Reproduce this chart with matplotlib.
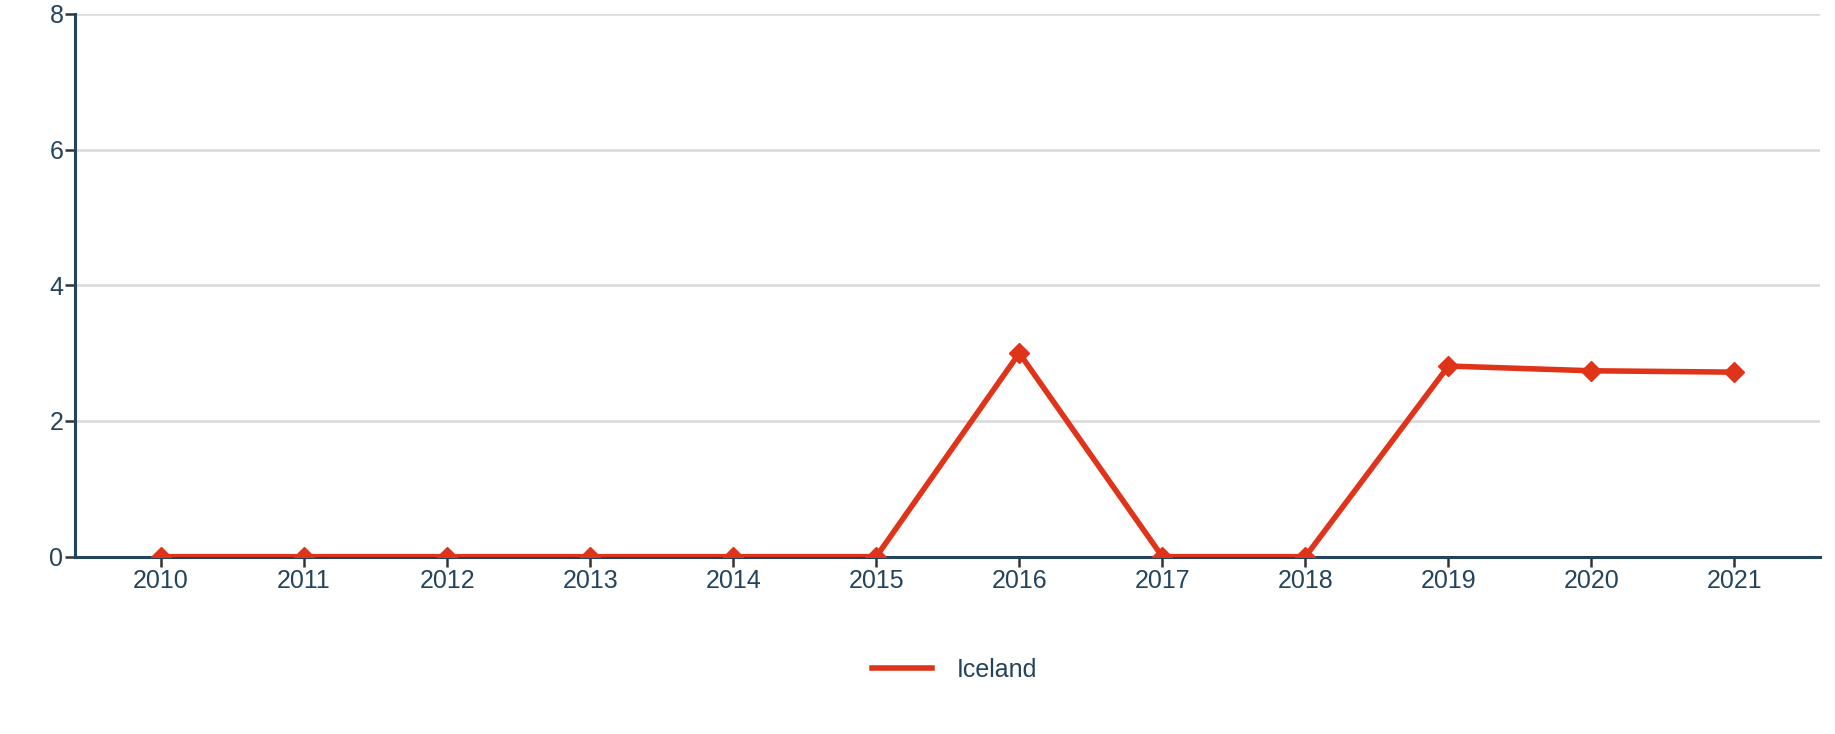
import numpy as np
import matplotlib.pyplot as plt

plt.rcParams['font.family'] = ['Liberation Sans', 'DejaVu Sans']

years = ['2010', '2011', '2012', '2013', '2014', '2015',
         '2016', '2017', '2018', '2019', '2020', '2021']
iceland = [0, 0, 0, 0, 0, 0, 3, 0, 0, 2.81, 2.74, 2.72]
y_ticks = [0, 2, 4, 6, 8]

red = '#e0341a'
navy = '#24445e'

fig = plt.figure(figsize=(18.35, 7.34), dpi=100)
ax = fig.add_axes([0.041, 0.2416, 0.951, 0.7394])

x = np.arange(len(years))
ax.plot(x, iceland, color=red, lw=4.0, marker='D', ms=10.5, label='Iceland')

ax.set_xlim(-0.6, len(years) - 0.4)
ax.set_ylim(0, 8)
ax.set_xticks(x)
ax.set_xticklabels(years)
ax.set_yticks(y_ticks)
ax.yaxis.grid(True, color='#d9d9d9', lw=1.8)
ax.set_axisbelow(True)

for s in ['top', 'right']:
    ax.spines[s].set_visible(False)
for s in ['left', 'bottom']:
    ax.spines[s].set_color(navy)
    ax.spines[s].set_linewidth(2.2)
    ax.spines[s].set_zorder(1)

ax.tick_params(axis='both', colors='#333333', labelcolor=navy,
               labelsize=18, length=7, width=1.8)
ax.tick_params(axis='x', pad=2)
ax.tick_params(axis='y', pad=1.5)

fig.legend(loc='center', bbox_to_anchor=(0.52, 0.087), frameon=False,
           fontsize=18, labelcolor=navy, handlelength=2.4,
           handletextpad=1.0)
for h in fig.legends[0].get_lines():
    h.set_marker('')

fig.savefig('out.png', dpi=100)
